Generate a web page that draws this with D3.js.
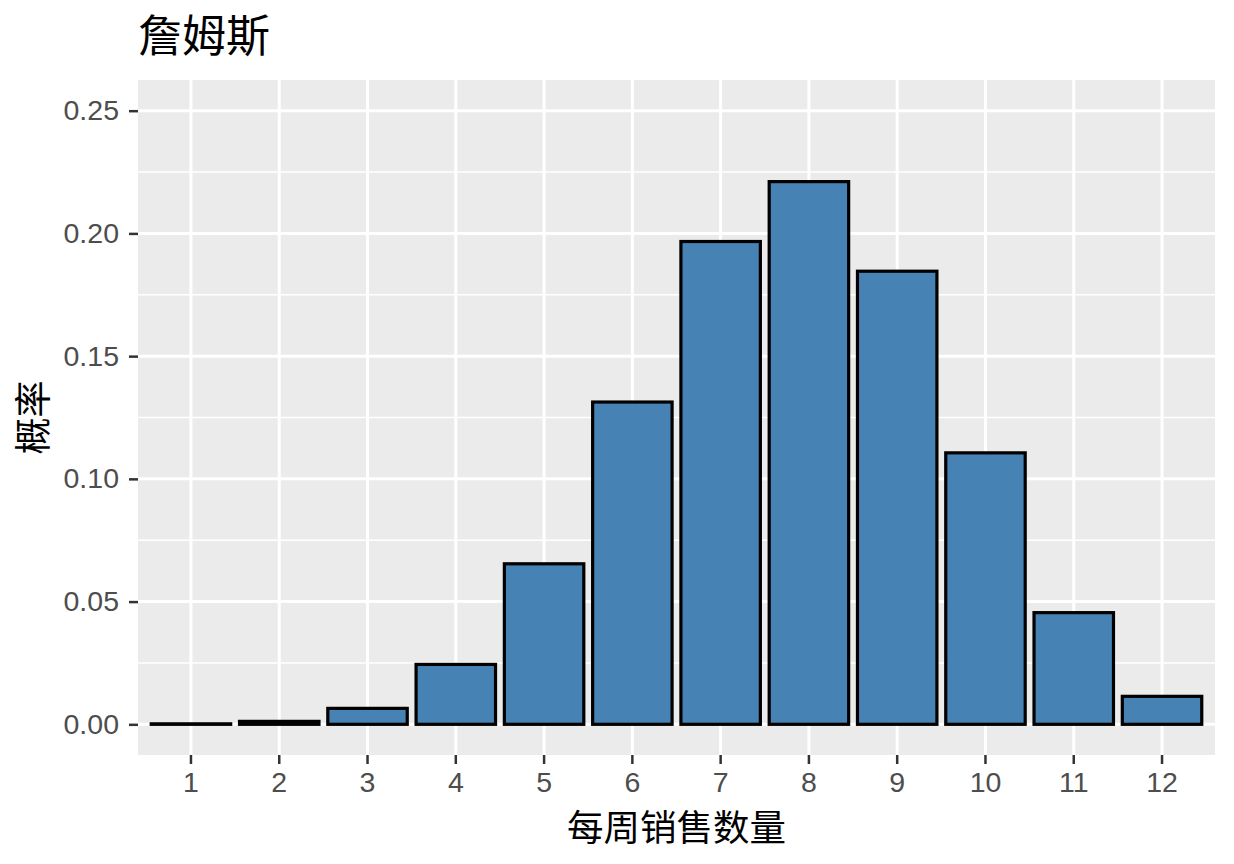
<!DOCTYPE html>
<html>
<head>
<meta charset="utf-8">
<script src="https://cdn.jsdelivr.net/npm/d3@7"></script>
<style>
  body { margin: 0; background: #fff; }
  text { font-family: "Liberation Sans", Arial, "Noto Sans CJK SC", sans-serif; }
  .cjk { font-family: "Noto Sans CJK SC", "Liberation Sans", sans-serif; }
</style>
</head>
<body>
<div id="chart"></div>
<script>
// data
const categories = ["1", "2", "3", "4", "5", "6", "7", "8", "9", "10", "11", "12"];
const probabilities = [0.0002, 0.0012, 0.0065, 0.0244, 0.0654, 0.1313, 0.1967, 0.2211, 0.1846, 0.1106, 0.0455, 0.0114];
const yTicks = [0, 0.05, 0.10, 0.15, 0.20, 0.25];
const yMinorTicks = [0.025, 0.075, 0.125, 0.175, 0.225];

const titleText = "詹姆斯";
const xTitle = "每周销售数量";
const yTitle = "概率";

const WIDTH = 1234, HEIGHT = 864;
const MARGIN = { top: 80, right: 19, bottom: 109, left: 138 };
const innerW = WIDTH - MARGIN.left - MARGIN.right;
const innerH = HEIGHT - MARGIN.top - MARGIN.bottom;

const svg = d3.select("#chart").append("svg")
  .attr("width", WIDTH)
  .attr("height", HEIGHT);

const g = svg.append("g")
  .attr("transform", `translate(${MARGIN.left},${MARGIN.top})`);

// scales (ggplot-like expansion)
const x = d3.scaleBand()
  .domain(categories)
  .range([0, innerW])
  .paddingInner(0.1)
  .paddingOuter(0.15);

const y = d3.scaleLinear()
  .domain([-0.0125, 0.2625])
  .range([innerH, 0]);

// panel
g.append("rect")
  .attr("width", innerW)
  .attr("height", innerH)
  .attr("fill", "#EBEBEB");

// minor grid
g.selectAll(".minor")
  .data(yMinorTicks)
  .enter().append("line")
  .attr("class", "minor")
  .attr("x1", 0).attr("x2", innerW)
  .attr("y1", d => y(d)).attr("y2", d => y(d))
  .attr("stroke", "#fff")
  .attr("stroke-width", 1.5);

// major grid
g.selectAll(".hmajor")
  .data(yTicks)
  .enter().append("line")
  .attr("class", "hmajor")
  .attr("x1", 0).attr("x2", innerW)
  .attr("y1", d => y(d)).attr("y2", d => y(d))
  .attr("stroke", "#fff")
  .attr("stroke-width", 3);

g.selectAll(".vmajor")
  .data(categories)
  .enter().append("line")
  .attr("class", "vmajor")
  .attr("x1", d => x(d) + x.bandwidth() / 2)
  .attr("x2", d => x(d) + x.bandwidth() / 2)
  .attr("y1", 0).attr("y2", innerH)
  .attr("stroke", "#fff")
  .attr("stroke-width", 3);

// bars
g.selectAll(".bar")
  .data(categories.map((c, i) => ({ cat: c, p: probabilities[i] })))
  .enter().append("rect")
  .attr("class", "bar")
  .attr("x", d => x(d.cat))
  .attr("y", d => y(d.p))
  .attr("width", x.bandwidth())
  .attr("height", d => y(0) - y(d.p))
  .attr("fill", "steelblue")
  .attr("stroke", "#000")
  .attr("stroke-width", 3.2);

// axes
const yAxis = g.append("g")
  .call(d3.axisLeft(y).tickValues(yTicks).tickFormat(d3.format(".2f")).tickSize(9).tickPadding(10));
const xAxis = g.append("g")
  .attr("transform", `translate(0,${innerH})`)
  .call(d3.axisBottom(x).tickSize(9).tickPadding(8));

[yAxis, xAxis].forEach(ax => {
  ax.select(".domain").remove();
  ax.selectAll(".tick line").attr("stroke", "#333").attr("stroke-width", 2.5);
  ax.selectAll(".tick text").attr("fill", "#4D4D4D").attr("font-size", "28.5px");
});
xAxis.selectAll(".tick text").attr("dy", "0.71em");

// titles
svg.append("text")
  .attr("class", "cjk")
  .attr("x", 138)
  .attr("y", 52)
  .attr("font-size", "44px")
  .attr("fill", "#000")
  .text(titleText);

svg.append("text")
  .attr("class", "cjk")
  .attr("x", MARGIN.left + innerW / 2)
  .attr("y", 841)
  .attr("text-anchor", "middle")
  .attr("font-size", "36.5px")
  .attr("fill", "#000")
  .text(xTitle);

svg.append("text")
  .attr("class", "cjk")
  .attr("transform", `translate(47,${MARGIN.top + innerH / 2}) rotate(-90)`)
  .attr("text-anchor", "middle")
  .attr("font-size", "37px")
  .attr("fill", "#000")
  .text(yTitle);
</script>
</body>
</html>
